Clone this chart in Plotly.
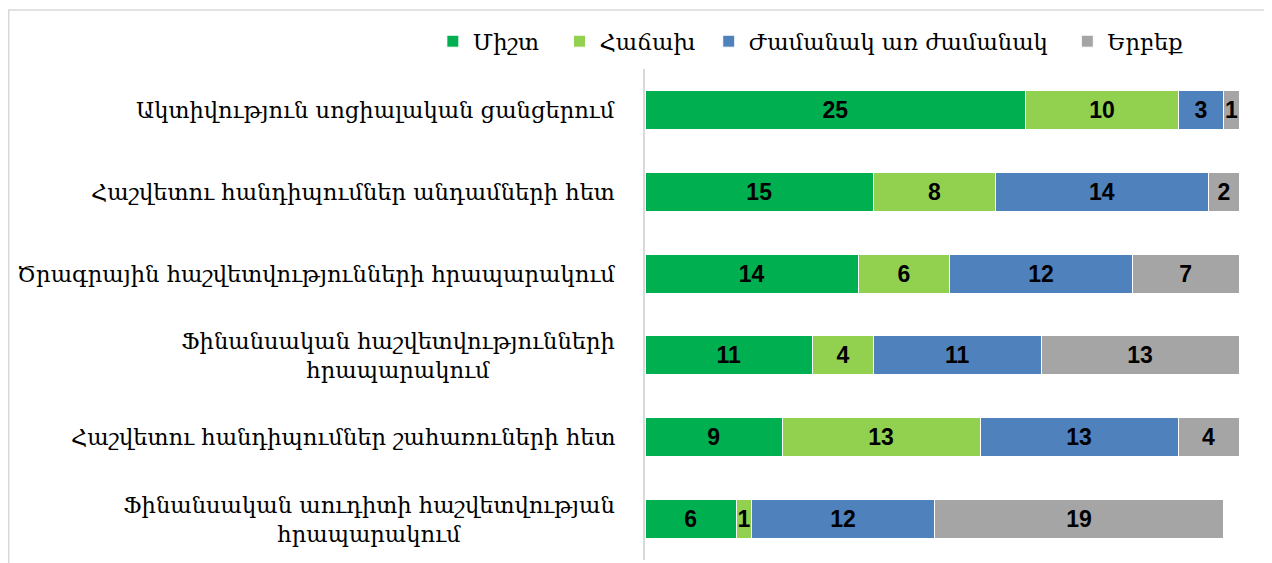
import plotly.graph_objects as go

categories = [
    "Ակտիվություն սոցիալական ցանցերում",
    "Հաշվետու հանդիպումներ անդամների հետ",
    "Ծրագրային հաշվետվությունների հրապարակում",
    "Ֆինանսական հաշվետվությունների<br>հրապարակում",
    "Հաշվետու հանդիպումներ շահառուների հետ",
    "Ֆինանսական աուդիտի հաշվետվության<br>հրապարակում",
]
series_names = ["Միշտ", "Հաճախ", "Ժամանակ առ ժամանակ", "Երբեք"]
always = [25, 15, 14, 11, 9, 6]
often = [10, 8, 6, 4, 13, 1]
sometimes = [3, 14, 12, 11, 13, 12]
never = [1, 2, 7, 13, 4, 19]
colors = ["#00B050", "#92D050", "#4F81BD", "#A5A5A5"]
legend_ids = ["legend", "legend2", "legend3", "legend4"]
legend_x = [0.3340, 0.4336, 0.5509, 0.8328]

label_font = "DejaVu Serif"
num_font = "Liberation Sans"
label_size = 22.6

fig = go.Figure()
for name, vals, col, lid in zip(series_names, [always, often, sometimes, never], colors, legend_ids):
    fig.add_trace(go.Bar(
        y=categories, x=vals, name=name, orientation="h", legend=lid,
        showlegend=True,
        marker=dict(color=col, line=dict(color="white", width=1)),
        text=vals, texttemplate="<b>%{x}</b>", textposition="inside",
        insidetextanchor="middle", constraintext="none",
        textfont=dict(family=num_font, size=23, color="black"),
        hoverinfo="skip",
    ))

for c in categories:
    fig.add_annotation(
        x=-0.047, xref="paper", y=c, yref="y", text=c, showarrow=False,
        xanchor="right", yanchor="middle", align="center",
        font=dict(family=label_font, size=label_size, color="#000000"),
    )

fig.add_shape(type="rect", xref="paper", yref="paper",
              x0=-1.0711, x1=1.0488, y0=-0.2, y1=1.1202,
              line=dict(color="#D9D9D9", width=1.5), fillcolor="rgba(0,0,0,0)")

legend_common = dict(orientation="h", xref="container", yref="container",
                     xanchor="left", y=0.9405, yanchor="middle",
                     bgcolor="rgba(0,0,0,0)", visible=True,
                     font=dict(family=label_font, size=label_size, color="#000000"),
                     itemclick=False, itemdoubleclick=False)

fig.update_layout(
    barmode="stack", bargap=0.523,
    width=1272, height=563, showlegend=True,
    margin=dict(l=637, r=41, t=61, b=11, autoexpand=False),
    plot_bgcolor="white", paper_bgcolor="white",
    uniformtext=dict(minsize=23, mode="show"),
    xaxis=dict(range=[0, 39], visible=False, showgrid=False, zeroline=False),
    yaxis=dict(categoryorder="array", categoryarray=categories, autorange="reversed",
               showticklabels=False, showline=True, linecolor="#D9D9D9", linewidth=1.5,
               showgrid=False, ticks=""),
)
for lid, lx in zip(legend_ids, legend_x):
    fig.update_layout({lid: dict(legend_common, x=lx)})

fig.write_html("out.html")
